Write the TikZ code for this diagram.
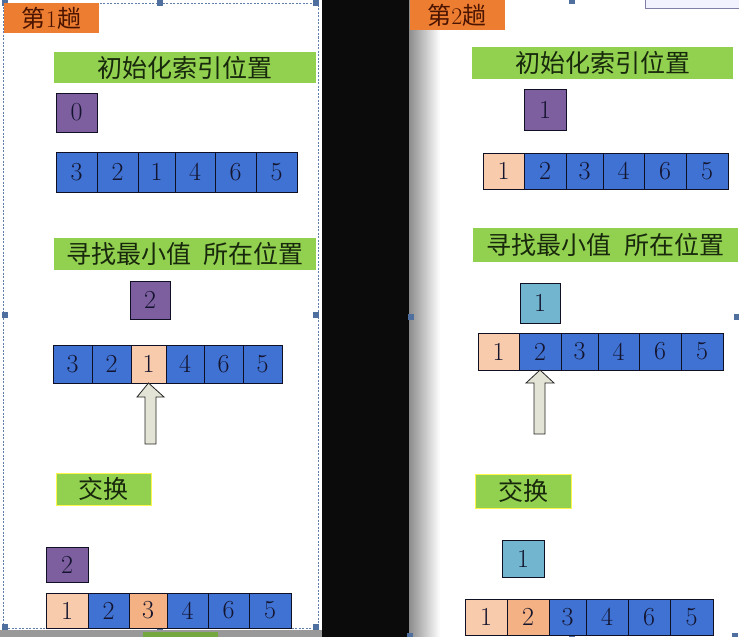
\documentclass[tikz,border=0pt]{standalone}
\usepackage{fontspec}
\newfontfamily\cjk{Noto Sans CJK SC}
\definecolor{orangeB}{HTML}{ED7D31}
\definecolor{orangeT}{HTML}{4A1400}
\definecolor{greenB}{HTML}{92D050}
\definecolor{greenT}{HTML}{17280C}
\definecolor{purp}{HTML}{7D5FA0}
\definecolor{blu}{HTML}{3F72D2}
\definecolor{pch}{HTML}{F8CBAD}
\definecolor{pchd}{HTML}{F4B183}
\definecolor{lbl}{HTML}{71B6CE}
\definecolor{numT}{HTML}{14142E}
\definecolor{arrF}{HTML}{E3E4D6}
\definecolor{band}{HTML}{0B0B0B}
\definecolor{handle}{HTML}{4F6F9F}
\tikzset{
  cell/.style={draw=numT!80!black, line width=0.8pt, inner sep=0pt, outer sep=0pt, text=numT, font=\fontsize{26}{26}\selectfont},
  tag/.style={fill=orangeB, inner sep=0pt, outer sep=0pt, text=orangeT, font=\fontsize{24}{24}\selectfont},
  bar/.style={fill=greenB, inner sep=0pt, outer sep=0pt, text=greenT, font=\cjk\fontsize{25}{25}\selectfont},
  idx/.style={draw=numT!80!black, line width=0.8pt, inner sep=0pt, outer sep=0pt, text=numT, font=\fontsize{26}{26}\selectfont},
  uparrow/.style={draw=black!85, line width=0.8pt, fill=arrF},
  hdl/.style={fill=handle, inner sep=0pt, minimum size=6pt},
}
\newcommand\cellrow[4]{%
  \foreach \i/\xa/\xb/\c/\d in {#4}{%
    \pgfmathsetmacro\w{\xb-\xa}%
    \pgfmathsetmacro\h{#3-#2}%
    \node[cell, fill=\c, minimum width=\w pt, minimum height=\h pt] (#1-\i) at ({(\xa+\xb)/2},{(#2+#3)/2}) {\d};
  }}
\begin{document}
\begin{tikzpicture}[x=1pt,y=-1pt]
\useasboundingbox (0,0) rectangle (739,637);
% backgrounds
\fill[white] (0,0) rectangle (739,637);
\fill[band] (322,0) rectangle (409,637);
\shade[left color=black!45, right color=white] (409,0) rectangle (440,637);
\fill[white] (440,0) rectangle (739,637);
\fill[black!40] (0,630) rectangle (322,637);
\fill[greenB!80!black] (143,632) rectangle (218,637);
\draw[blue!30!black!50, fill=blue!5] (645,-2) rectangle (741,8);
% left dashed frame
\draw[handle!90, dash pattern=on 2pt off 1.5pt, line width=0.7pt] (3,3) rectangle (318,628);
\foreach \n/\x/\y in {h1/5/3, h2/160/3, h3/316/3, h4/5/315, h5/316/315, h6/5/627, h7/160/627, h8/316/627, h9/411/317, h10/737/317, h11/572/1, h12/410/636, h13/572/636, h14/735/636}
  \node[hdl] (\n) at (\x,\y) {};

% ---------- pass 1 ----------
\node[tag, minimum width=95pt, minimum height=30pt] (t1) at (51.5,18) {{\cjk 第}1{\cjk 趟}};
\node[bar, minimum width=262pt, minimum height=31pt] (b1a) at (185,67.5) {初始化索引位置};
\node[idx, fill=purp, minimum width=41pt, minimum height=39pt] (i1a) at (76.5,112.5) {0};
\cellrow{r1a}{152}{192}{1/56/97/blu/3, 2/97/138/blu/2, 3/138/175/blu/1, 4/175/215/blu/4, 5/215/256/blu/6, 6/256/297/blu/5}
\node[bar, minimum width=262pt, minimum height=32pt] (b1b) at (185,254) {寻找最小值\hspace{0.5em}所在位置};
\node[idx, fill=purp, minimum width=40pt, minimum height=38pt] (i1b) at (150,300) {2};
\cellrow{r1b}{345}{383}{1/53/92/blu/3, 2/92/131/blu/2, 3/131/166/pch/1, 4/166/204/blu/4, 5/204/243/blu/6, 6/243/282/blu/5}
\draw[uparrow] (r1b-3.south) -- (164,397) -- (156,397) -- (156,444) -- (145,444) -- (145,397) -- (137,397) -- cycle;
\node[bar, draw=yellow!70, line width=0.6pt, minimum width=95pt, minimum height=32pt] (b1c) at (103.5,489) {交换};
\node[idx, fill=purp, minimum width=42pt, minimum height=35pt] (i1c) at (67,564.5) {2};
\cellrow{r1c}{593}{628}{1/46/88/pch/1, 2/88/129/blu/2, 3/129/167/pchd/3, 4/167/208/blu/4, 5/208/249/blu/6, 6/249/291/blu/5}

% ---------- pass 2 ----------
\node[tag, minimum width=95pt, minimum height=30pt] (t2) at (457,15) {{\cjk 第}2{\cjk 趟}};
\node[bar, minimum width=261pt, minimum height=32pt] (b2a) at (602.5,63) {初始化索引位置};
\node[idx, fill=purp, minimum width=42pt, minimum height=41pt] (i2a) at (545,109.5) {1};
\cellrow{r2a}{153}{189}{1/483/524/pch/1, 2/524/566/blu/2, 3/566/603/blu/3, 4/603/644/blu/4, 5/644/686/blu/6, 6/686/728/blu/5}
\node[bar, minimum width=265pt, minimum height=34pt] (b2b) at (605.5,245) {寻找最小值\hspace{0.5em}所在位置};
\node[idx, fill=lbl, minimum width=40pt, minimum height=40pt] (i2b) at (540,303) {1};
\cellrow{r2b}{333}{370}{1/478/519/pch/1, 2/519/561/blu/2, 3/561/598/blu/3, 4/598/639/blu/4, 5/639/681/blu/6, 6/681/723/blu/5}
\draw[uparrow] (r2b-2.south) -- (554,383) -- (545,383) -- (545,434) -- (534,434) -- (534,383) -- (526,383) -- cycle;
\node[bar, draw=yellow!70, line width=0.6pt, minimum width=96pt, minimum height=34pt] (b2c) at (523,491) {交换};
\node[idx, fill=lbl, minimum width=42pt, minimum height=37pt] (i2c) at (523,558.5) {1};
\cellrow{r2c}{599}{635}{1/465/507/pch/1, 2/507/549/pchd/2, 3/549/586/blu/3, 4/586/628/blu/4, 5/628/670/blu/6, 6/670/713/blu/5}
\end{tikzpicture}
\end{document}
